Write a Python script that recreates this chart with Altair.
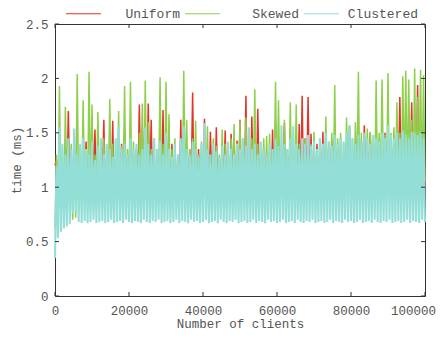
import altair as alt
import pandas as pd

series_names = ["Uniform", "Skewed", "Clustered"]
series_colors = ["#e2352a", "#8ecf4b", "#93dfd8"]

x_ticks = [0, 20000, 40000, 60000, 80000, 100000]
y_ticks = [0, 0.5, 1, 1.5, 2, 2.5]

# sampling step of the readings (clients); peaks and troughs alternate
step = 400

uniform_hi = [
    1.25, 1.30, 1.20, 1.35, 1.70, 1.28, 1.50, 1.22, 1.30, 1.25,
    1.42, 1.30, 1.65, 1.53, 1.25, 1.30, 1.62, 1.28, 1.35, 1.61,
    1.25, 1.30, 1.40, 1.53, 1.28, 1.45, 1.30, 1.35, 1.76, 1.55,
    1.30, 1.77, 1.62, 1.25, 1.35, 1.30, 1.71, 1.28, 1.35, 1.40,
    1.30, 1.25, 1.62, 1.30, 1.30, 1.35, 1.87, 1.28, 1.35, 1.30,
    1.63, 1.28, 1.51, 1.30, 1.55, 1.25, 1.35, 1.52, 1.30, 1.49,
    1.46, 1.43, 1.62, 1.30, 1.84, 1.35, 1.65, 1.30, 1.72, 1.28,
    1.35, 1.30, 1.25, 1.53, 1.59, 1.27, 1.35, 1.59, 1.30, 1.35,
    1.28, 1.40, 1.58, 1.84, 1.45, 1.83, 1.49, 1.35, 1.40, 1.36,
    1.51, 1.52, 1.35, 1.43, 1.30, 1.35, 1.35, 1.30, 1.40, 1.55,
    1.30, 1.35, 1.30, 1.42, 1.57, 1.35, 1.50, 1.30, 1.40, 1.35,
    1.30, 1.50, 1.57, 1.35, 1.40, 1.55, 1.83, 1.40, 1.45, 1.45,
    1.78, 1.40, 1.94, 1.50, 1.45,
]
uniform_lo = [
    1.20, 0.88, 0.95, 0.84, 0.92, 1.00, 0.86, 0.94, 0.90, 1.05,
    0.87, 0.93, 0.83, 0.98, 0.91, 0.85, 1.02, 0.89, 0.95, 0.86,
    0.92, 0.84, 0.99, 0.88, 0.94, 0.82, 0.96, 0.90, 1.01, 0.87,
    0.93, 0.85, 0.97, 0.89, 1.03, 0.86, 0.91, 0.84, 0.98, 0.92,
    0.87, 1.00, 0.90, 0.85, 0.95, 0.88, 1.02, 0.83, 0.94, 0.89,
    0.96, 0.86, 0.91, 1.01, 0.84, 0.93, 0.88, 0.97, 0.85, 0.92,
    1.04, 0.87, 0.94, 0.89, 0.99, 0.83, 0.95, 0.90, 0.86, 1.00,
    0.91, 0.88, 0.97, 0.84, 0.93, 1.02, 0.87, 0.95, 0.89, 0.92,
    0.86, 0.98, 0.90, 0.94, 0.85, 1.01, 0.92, 0.88, 0.96, 0.90,
    0.93, 0.87, 0.99, 0.91, 0.95, 0.88, 1.03, 0.92, 0.97, 0.89,
    0.95, 1.00, 0.90, 0.96, 0.93, 1.04, 0.91, 0.98, 0.94, 1.01,
    0.97, 0.92, 1.02, 0.95, 0.99, 0.93, 1.05, 0.96, 1.00, 0.94,
    1.03, 0.97, 1.01, 0.98, 1.04, 1.00,
]
skewed_hi = [
    1.30, 1.93, 1.35, 1.74, 1.30, 1.40, 1.32, 2.04, 1.38, 1.80,
    1.28, 2.06, 1.76, 1.30, 1.69, 1.35, 1.45, 1.25, 1.81, 1.40,
    1.30, 1.70, 1.38, 1.93, 1.35, 1.97, 1.42, 1.30, 1.50, 1.77,
    1.98, 1.60, 1.35, 1.45, 1.30, 2.01, 1.40, 1.97, 1.67, 1.35,
    1.45, 1.30, 1.40, 2.07, 1.62, 1.35, 1.45, 1.61, 1.30, 1.42,
    1.35, 1.56, 1.30, 1.45, 1.38, 1.30, 1.53, 1.40, 1.35, 1.45,
    1.58, 1.35, 1.61, 1.40, 1.64, 1.35, 1.45, 1.90, 1.40, 1.35,
    1.45, 1.47, 1.49, 1.35, 1.97, 1.80, 1.40, 1.62, 1.35, 1.78,
    1.45, 1.76, 1.40, 1.35, 1.45, 1.38, 1.40, 1.51, 1.35, 1.45,
    1.40, 1.65, 1.42, 1.50, 1.94, 1.45, 1.50, 1.40, 1.64, 1.57,
    1.45, 1.60, 2.06, 1.50, 1.45, 1.54, 1.51, 1.45, 1.98, 1.50,
    1.99, 1.48, 2.05, 1.50, 1.55, 1.78, 1.50, 2.02, 2.07, 1.99,
    1.62, 2.09, 1.83, 2.08, 2.03,
]
skewed_lo = [
    0.62, 0.85, 0.90, 0.82, 0.95, 0.88, 0.70, 0.72, 0.92, 0.86,
    0.98, 0.84, 0.93, 0.80, 1.02, 0.87, 0.91, 0.83, 0.96, 0.89,
    0.85, 1.00, 0.82, 0.94, 0.88, 0.97, 0.84, 0.92, 0.86, 1.03,
    0.90, 0.83, 0.95, 0.88, 0.81, 0.99, 0.86, 0.93, 0.84, 0.90,
    1.01, 0.85, 0.92, 0.87, 0.96, 0.82, 0.94, 0.89, 0.85, 1.00,
    0.88, 0.93, 0.83, 0.97, 0.86, 0.91, 1.04, 0.84, 0.90, 0.87,
    0.95, 0.82, 0.98, 0.88, 0.85, 0.93, 0.90, 1.02, 0.86, 0.92,
    0.84, 0.96, 0.89, 0.83, 1.00, 0.87, 0.94, 0.85, 0.91, 0.98,
    0.88, 0.95, 0.86, 1.03, 0.90, 0.84, 0.97, 0.92, 0.87, 1.05,
    0.93, 0.89, 1.00, 0.86, 0.96, 0.91, 1.06, 0.88, 0.94, 1.02,
    0.90, 0.97, 1.08, 0.92, 0.99, 0.87, 1.04, 0.95, 1.01, 0.93,
    1.07, 0.96, 1.02, 0.91, 1.05, 0.98, 1.09, 0.94, 1.03, 1.00,
    1.06, 0.97, 1.04, 1.08, 0.99, 1.05,
]
clustered_hi = [
    1.20, 1.55, 1.40, 1.30, 1.45, 1.35, 1.54, 1.30, 1.40, 1.45,
    1.35, 1.30, 1.42, 1.25, 1.38, 1.45, 1.30, 1.40, 1.35, 1.28,
    1.45, 1.56, 1.35, 1.40, 1.30, 1.45, 1.35, 1.40, 1.30, 1.35,
    1.55, 1.40, 1.30, 1.45, 1.35, 1.42, 1.30, 1.50, 1.35, 1.28,
    1.40, 1.30, 1.45, 1.56, 1.35, 1.30, 1.42, 1.35, 1.28, 1.40,
    1.59, 1.35, 1.30, 1.40, 1.33, 1.28, 1.38, 1.30, 1.42, 1.35,
    1.30, 1.40, 1.35, 1.45, 1.38, 1.55, 1.35, 1.40, 1.30, 1.42,
    1.35, 1.30, 1.40, 1.35, 1.45, 1.38, 1.57, 1.40, 1.35, 1.45,
    1.56, 1.40, 1.35, 1.45, 1.40, 1.48, 1.38, 1.42, 1.35, 1.45,
    1.40, 1.50, 1.42, 1.38, 1.48, 1.40, 1.45, 1.42, 1.50, 1.57,
    1.45, 1.40, 1.48, 1.42, 1.50, 1.45, 1.40, 1.48, 1.45, 1.42,
    1.50, 1.45, 1.57, 1.48, 1.45, 1.50, 1.45, 1.52, 1.48, 1.45,
    1.51, 1.50, 1.48, 1.50, 1.45,
]
clustered_lo = [
    0.35, 0.53, 0.59, 0.62, 0.64, 0.66, 0.76, 0.77, 0.68, 0.67,
    0.69, 0.67, 0.68, 0.70, 0.67, 0.68, 0.69, 0.67, 0.68, 0.70,
    0.67, 0.68, 0.69, 0.67, 0.70, 0.68, 0.67, 0.69, 0.68, 0.67,
    0.70, 0.68, 0.67, 0.69, 0.68, 0.70, 0.67, 0.68, 0.69, 0.67,
    0.68, 0.70, 0.67, 0.69, 0.68, 0.67, 0.70, 0.68, 0.69, 0.67,
    0.68, 0.70, 0.67, 0.68, 0.69, 0.67, 0.70, 0.68, 0.67, 0.69,
    0.68, 0.70, 0.67, 0.68, 0.69, 0.67, 0.68, 0.70, 0.67, 0.69,
    0.68, 0.67, 0.70, 0.68, 0.69, 0.67, 0.68, 0.70, 0.67, 0.68,
    0.69, 0.67, 0.70, 0.68, 0.67, 0.69, 0.68, 0.70, 0.67, 0.68,
    0.69, 0.67, 0.68, 0.70, 0.67, 0.69, 0.68, 0.67, 0.70, 0.68,
    0.69, 0.67, 0.68, 0.70, 0.67, 0.68, 0.69, 0.67, 0.70, 0.68,
    0.67, 0.69, 0.68, 0.70, 0.67, 0.68, 0.69, 0.67, 0.68, 0.70,
    0.67, 0.69, 0.68, 0.67, 0.70, 0.68,
]

rows = []
for name, hi, lo in [("Uniform", uniform_hi, uniform_lo),
                     ("Skewed", skewed_hi, skewed_lo),
                     ("Clustered", clustered_hi, clustered_lo)]:
    k = 0
    for i in range(len(lo)):
        rows.append({"clients": k * step, "time": lo[i], "series": name, "order": k})
        k += 1
        if i < len(hi):
            rows.append({"clients": k * step, "time": hi[i], "series": name, "order": k})
            k += 1
df = pd.DataFrame(rows)

FONT = "Liberation Mono"
W, H = 370, 272

xscale = alt.Scale(domain=[0, 100000], nice=False)
yscale = alt.Scale(domain=[0, 2.5], nice=False)
xaxis = alt.Axis(values=x_ticks, format="d", title="Number of clients",
                 labelPadding=8, titlePadding=1, labelFlush=False,
                 labelOffset={"expr": "datum.value == 100000 ? -12 : 0"})
yaxis = alt.Axis(values=y_ticks, format="~g", title="time (ms)",
                 labelPadding=7, titlePadding=2, labelFlush=False)
color = alt.Color(
    "series:N",
    scale=alt.Scale(domain=series_names, range=series_colors),
    sort=series_names,
    legend=alt.Legend(
        title=None, orient="none", direction="horizontal",
        legendX=10, legendY=-29, symbolType="stroke", symbolSize=1225,
        symbolStrokeWidth=1.2, labelFont=FONT, labelFontSize=13,
        labelColor="#555555", labelAlign="right", labelOffset=78,
        columnPadding=2, padding=0,
    ),
)

def line_layer(name, sw):
    return alt.Chart(df).transform_filter(
        alt.datum.series == name
    ).mark_line(strokeWidth=sw, interpolate="linear").encode(
        x=alt.X("clients:Q", scale=xscale, axis=xaxis),
        y=alt.Y("time:Q", scale=yscale, axis=yaxis),
        color=color,
        order="order:Q",
    )

xt = pd.DataFrame({"clients": x_ticks})
yt = pd.DataFrame({"time": y_ticks})
tick_color = "#333333"
bottom_ticks = alt.Chart(xt).mark_rule(color=tick_color).encode(
    x=alt.X("clients:Q", scale=xscale, axis=xaxis), y=alt.value(H), y2=alt.value(H - 4))
top_ticks = alt.Chart(xt).mark_rule(color=tick_color).encode(
    x=alt.X("clients:Q", scale=xscale, axis=xaxis), y=alt.value(0), y2=alt.value(4))
left_ticks = alt.Chart(yt).mark_rule(color=tick_color).encode(
    y=alt.Y("time:Q", scale=yscale, axis=yaxis), x=alt.value(0), x2=alt.value(4))
right_ticks = alt.Chart(yt).mark_rule(color=tick_color).encode(
    y=alt.Y("time:Q", scale=yscale, axis=yaxis), x=alt.value(W), x2=alt.value(W - 4))

chart = alt.layer(
    line_layer("Uniform", 1.5), line_layer("Skewed", 1.5), line_layer("Clustered", 2.1),
    bottom_ticks, top_ticks, left_ticks, right_ticks,
).properties(
    width=W, height=H, autosize="none",
    padding={"left": 47, "top": 16, "right": 14, "bottom": 37},
).configure_view(
    stroke="#333333", strokeWidth=1
).configure_axis(
    domain=False, ticks=False, grid=False,
    labelFont=FONT, labelFontSize=12.5, labelColor="#555555",
    titleFont=FONT, titleFontSize=12.5, titleColor="#555555", titleFontWeight="normal",
)

chart.save("out.html", embed_options={"renderer": "svg", "actions": False})
